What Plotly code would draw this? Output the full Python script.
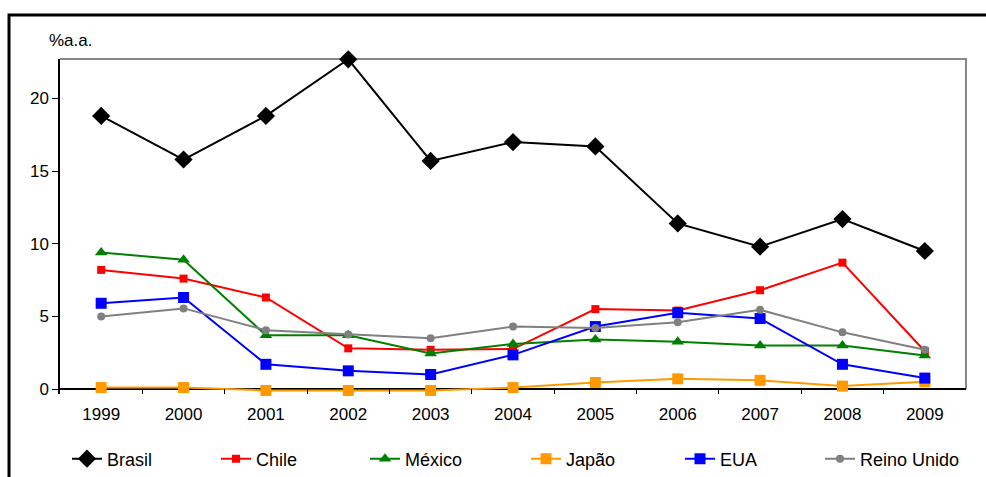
import plotly.graph_objects as go

# Taxa de juros real (% a.a.), 1999-2009
anos = ["1999", "2000", "2001", "2002", "2003", "2004", "2005", "2006", "2007", "2008", "2009"]
brasil = [18.8, 15.8, 18.8, 22.7, 15.7, 17.0, 16.7, 11.4, 9.8, 11.7, 9.5]
chile = [8.2, 7.6, 6.3, 2.8, 2.7, 2.75, 5.5, 5.4, 6.8, 8.7, 2.6]
mexico = [9.4, 8.9, 3.7, 3.7, 2.45, 3.1, 3.4, 3.25, 3.0, 3.0, 2.3]
japao = [0.1, 0.1, -0.1, -0.1, -0.1, 0.1, 0.45, 0.7, 0.6, 0.2, 0.5]
eua = [5.9, 6.3, 1.7, 1.25, 1.0, 2.35, 4.3, 5.25, 4.85, 1.7, 0.75]
reino_unido = [5.0, 5.55, 4.05, 3.75, 3.5, 4.3, 4.2, 4.6, 5.45, 3.9, 2.7]

series = [
    ("Brasil", brasil, "#000000", "diamond", 14),
    ("Chile", chile, "#FF0000", "square", 8),
    ("México", mexico, "#008000", "triangle-up", 11),
    ("Japão", japao, "#FF9900", "square", 11),
    ("EUA", eua, "#0000FF", "square", 11),
    ("Reino Unido", reino_unido, "#808080", "circle", 8),
]

# plot area in pixels (986 x 477 canvas); the value axis crosses at 0,
# a few pixels above the bottom edge so the category ticks hang below it
L, R, T, B = 60, 966, 59, 394
ZERO_PX = 389
W, H = R - L, B - T
Y_TOP = 22.72
PX_PER_UNIT = (ZERO_PX - T) / Y_TOP
Y_BOTTOM = -(B - ZERO_PX) / PX_PER_UNIT


def px_x(p):
    return (p - L) / W


def px_y(p):
    return (B - p) / H


FONT = "Liberation Sans, Arial, sans-serif"

# start of each legend entry text, in pixels
legend_text_x = [107, 256, 405, 566, 720, 860]

fig = go.Figure()
legends = {}
for i, (name, vals, color, symbol, size) in enumerate(series):
    key = "legend" if i == 0 else f"legend{i + 1}"
    fig.add_trace(go.Scatter(
        x=anos, y=vals, name=name, mode="lines+markers",
        line=dict(color=color, width=2),
        marker=dict(symbol=symbol, size=size, color=color),
        legend=key, cliponaxis=False,
    ))
    legends[key] = dict(
        x=px_x(legend_text_x[i] - 40), xanchor="left",
        y=px_y(459), yanchor="middle",
        orientation="h", bgcolor="rgba(0,0,0,0)",
        font=dict(family=FONT, size=18, color="#000000"),
        itemwidth=30,
    )

fig.update_layout(
    width=986, height=477,
    margin=dict(l=L, r=986 - R, t=T, b=477 - B, autoexpand=False),
    paper_bgcolor="white", plot_bgcolor="white",
    font=dict(family=FONT, size=17, color="#000000"),
    showlegend=True,
    **legends,
)

fig.update_xaxes(
    type="category", range=[-0.5, 10.5],
    showline=False,
    ticks="inside", tickson="boundaries", ticklen=5, tickcolor="#000000",
    tickwidth=1.2,
    showgrid=False, zeroline=False,
    tickfont=dict(family=FONT, size=17),
    ticklabelstandoff=8,
)
fig.update_yaxes(
    range=[Y_BOTTOM, Y_TOP],
    tickvals=[0, 5, 10, 15, 20],
    showline=True, linecolor="#000000", linewidth=1.5,
    ticks="outside", ticklen=6, tickcolor="#000000",
    showgrid=False,
    zeroline=True, zerolinecolor="#000000", zerolinewidth=1.5,
    tickfont=dict(family=FONT, size=17),
)

# gray frame along the top and right of the plot area, plus the outer black box
fig.add_shape(type="path", xref="paper", yref="paper",
              path=f"M 0,1 L 1,1 L 1,{px_y(ZERO_PX)}",
              line=dict(color="#888888", width=2), layer="below")
fig.add_shape(type="rect", xref="paper", yref="paper",
              x0=px_x(9), x1=px_x(1000), y0=px_y(500), y1=px_y(15),
              line=dict(color="#000000", width=3), layer="below")

fig.add_annotation(
    text="%a.a.", xref="paper", yref="paper", x=px_x(47), y=px_y(41),
    xanchor="left", yanchor="middle", showarrow=False,
    font=dict(family=FONT, size=17, color="#000000"),
)

fig.write_html("out.html")
